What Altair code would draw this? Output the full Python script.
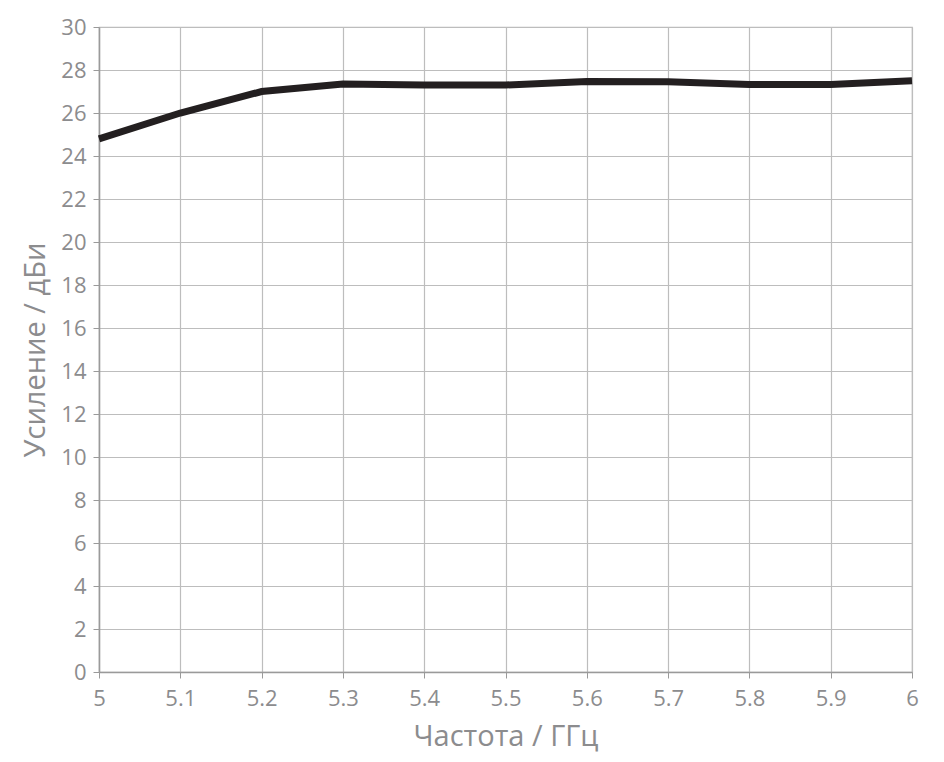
import altair as alt
import pandas as pd

freq = [5.0, 5.1, 5.2, 5.3, 5.4, 5.5, 5.6, 5.7, 5.8, 5.9, 6.0]
gain = [24.8, 26.0, 27.0, 27.35, 27.3, 27.3, 27.47, 27.45, 27.33, 27.32, 27.5]
x_ticks = [5.0, 5.1, 5.2, 5.3, 5.4, 5.5, 5.6, 5.7, 5.8, 5.9, 6.0]
y_ticks = list(range(0, 31, 2))

df = pd.DataFrame({"f": freq, "g": gain})

FONT = "Open Sans"
LBL = "#8c8c8e"

chart = alt.Chart(df).mark_line(color="#231f20", strokeWidth=7).encode(
    x=alt.X("f:Q", title="Частота / ГГц",
            scale=alt.Scale(domain=[5, 6], nice=False, zero=False),
            axis=alt.Axis(values=x_ticks, labelExpr="format(datum.value, '.2~f')",
                          labelFontSize=22, titleFontSize=29, labelPadding=10,
                          labelFlush=False, labelOverlap=False,
                          titlePadding=13, tickSize=6)),
    y=alt.Y("g:Q", title="Усиление / дБи",
            scale=alt.Scale(domain=[0, 30], nice=False),
            axis=alt.Axis(values=y_ticks, labelFontSize=22, titleFontSize=29,
                          labelPadding=7, labelOverlap=False, labelFlush=False,
                          titlePadding=10, tickSize=6)),
).properties(
    width=813, height=645,
    autosize=alt.AutoSizeParams(type="none"),
    padding={"left": 91, "top": 19, "right": 23, "bottom": 80},
).configure_axis(
    labelFont=FONT, titleFont=FONT, labelColor=LBL, titleColor=LBL,
    titleFontWeight="normal", gridColor="#bdbdbd", gridWidth=1.2,
    domainColor="#9a9a9a", domainWidth=1.5, tickColor="#9a9a9a",
).configure_view(stroke="#bdbdbd", strokeWidth=1.2)

chart.save("out.html", embed_options={"renderer": "svg", "actions": False})
